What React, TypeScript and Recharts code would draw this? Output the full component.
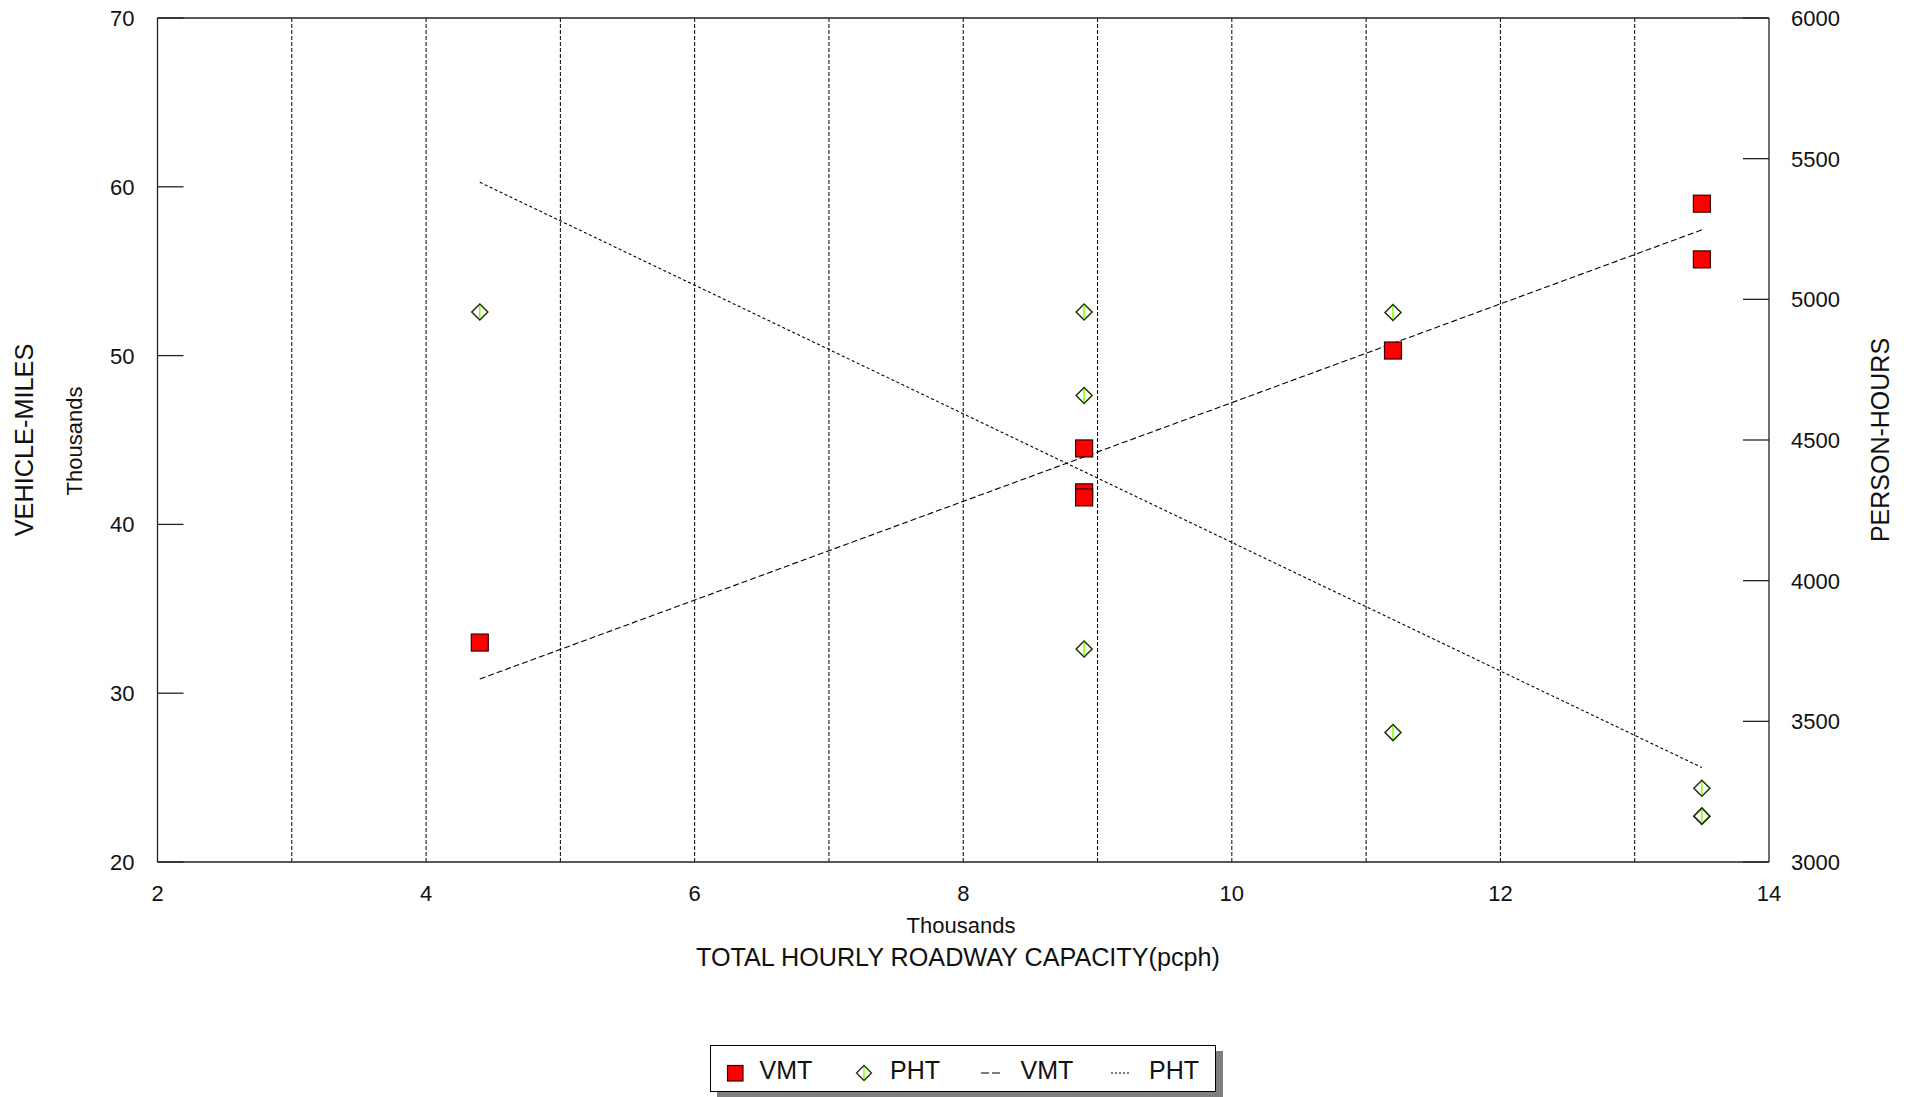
import React from 'react';
import { ComposedChart, Scatter, XAxis, YAxis, ReferenceLine } from 'recharts';

const FONT = '"Liberation Sans", Arial, Helvetica, sans-serif';

// x-axis (thousands of pcph)
const xTicks = [2, 4, 6, 8, 10, 12, 14];
const gridXs = [3, 4, 5, 6, 7, 8, 9, 10, 11, 12, 13];
// left axis: vehicle-miles (thousands)
const vmtTicks = [20, 30, 40, 50, 60, 70];
// right axis: person-hours
const phtTicks = [3000, 3500, 4000, 4500, 5000, 5500, 6000];

const vmtPoints = [
  { x: 4.4, y: 33.0 },
  { x: 8.9, y: 44.5 },
  { x: 8.9, y: 41.9 },
  { x: 8.9, y: 41.6 },
  { x: 11.2, y: 50.3 },
  { x: 13.5, y: 59.0 },
  { x: 13.5, y: 55.7 },
];

const phtPoints = [
  { x: 4.4, y: 4955 },
  { x: 8.9, y: 4955 },
  { x: 8.9, y: 4658 },
  { x: 8.9, y: 3757 },
  { x: 11.2, y: 4953 },
  { x: 11.2, y: 3460 },
  { x: 13.5, y: 3262 },
  { x: 13.5, y: 3163 },
  { x: 13.5, y: 3163 },
];

const vmtTrend = [
  { x: 4.4, y: 30.84 },
  { x: 13.5, y: 57.45 },
];

const phtTrend = [
  { x: 4.4, y: 5416 },
  { x: 13.5, y: 3336 },
];

const legendLabels = ['VMT', 'PHT', 'VMT', 'PHT'];

const AXIS_STROKE = '#222';

const SquareShape = (props: any) => {
  const { cx, cy } = props;
  if (cx == null || cy == null) return <g />;
  return (
    <rect x={cx - 8.5} y={cy - 8.5} width={17} height={17} fill="#ff0000" stroke="#3a0000" strokeWidth={1.2} />
  );
};

const DiamondShape = (props: any) => {
  const { cx, cy } = props;
  if (cx == null || cy == null) return <g />;
  const r = 8;
  return (
    <g>
      <polygon
        points={`${cx},${cy - r} ${cx + r},${cy} ${cx},${cy + r} ${cx - r},${cy}`}
        fill="#ffffff"
        stroke="#1e3300"
        strokeWidth={1.5}
      />
      <line x1={cx} y1={cy - r + 1.5} x2={cx} y2={cy + r - 1.5} stroke="#7fff00" strokeWidth={1.5} />
    </g>
  );
};

const NoShape = () => <g />;

const LeftTick = (props: any) => {
  const { x, y, payload } = props;
  return (
    <g>
      <line x1={x} y1={y} x2={x + 26} y2={y} stroke={AXIS_STROKE} strokeWidth={1.3} />
      <text x={x - 23} y={y + 8} textAnchor="end" fontSize={22} fontFamily={FONT} fill="#111">
        {payload.value}
      </text>
    </g>
  );
};

const RightTick = (props: any) => {
  const { x, y, payload } = props;
  return (
    <g>
      <line x1={x} y1={y} x2={x - 26} y2={y} stroke={AXIS_STROKE} strokeWidth={1.3} />
      <text x={x + 22} y={y + 8} textAnchor="start" fontSize={22} fontFamily={FONT} fill="#111">
        {payload.value}
      </text>
    </g>
  );
};

const BottomTick = (props: any) => {
  const { x, y, payload } = props;
  return (
    <text x={x} y={y + 39} textAnchor="middle" fontSize={22} fontFamily={FONT} fill="#111">
      {payload.value}
    </text>
  );
};

const LegendBox = () => (
  <div
    style={{
      position: 'absolute',
      left: 710,
      top: 1045,
      width: 506,
      height: 47,
      boxSizing: 'border-box',
      border: '1.5px solid #000',
      background: '#fff',
      boxShadow: '7px 6px 0 #7f7f7f',
    }}
  >
    <svg width={503} height={44} style={{ position: 'absolute', left: 0, top: 0, overflow: 'visible' }}>
      <rect x={16.5} y={19.5} width={15.5} height={15.5} fill="#ff0000" stroke="#3a0000" strokeWidth={1.2} />
      <text x={48.5} y={33} fontSize={25} fontFamily={FONT} fill="#111">{legendLabels[0]}</text>
      <polygon points="153,19.5 160.5,27 153,34.5 145.5,27" fill="#fff" stroke="#1e3300" strokeWidth={1.3} />
      <line x1={153} y1={21} x2={153} y2={33} stroke="#7fff00" strokeWidth={1.3} />
      <text x={179} y={33} fontSize={25} fontFamily={FONT} fill="#111">{legendLabels[1]}</text>
      <line x1={270} y1={27} x2={291.5} y2={27} stroke="#000" strokeWidth={1} strokeDasharray="8 3" />
      <text x={309.5} y={33} fontSize={25} fontFamily={FONT} fill="#111">{legendLabels[2]}</text>
      <line x1={400} y1={27} x2={420} y2={27} stroke="#000" strokeWidth={1} strokeDasharray="2 2" />
      <text x={438} y={33} fontSize={25} fontFamily={FONT} fill="#111">{legendLabels[3]}</text>
    </svg>
  </div>
);

const Titles = () => (
  <svg
    width={1917}
    height={1097}
    style={{ position: 'absolute', left: 0, top: 0, pointerEvents: 'none' }}
  >
    <text
      x={24}
      y={440}
      transform="rotate(-90 24 440)"
      textAnchor="middle"
      dominantBaseline="central"
      fontSize={25.3}
      fontFamily={FONT}
      fill="#111"
    >
      VEHICLE-MILES
    </text>
    <text
      x={74}
      y={441}
      transform="rotate(-90 74 441)"
      textAnchor="middle"
      dominantBaseline="central"
      fontSize={22}
      fontFamily={FONT}
      fill="#111"
    >
      Thousands
    </text>
    <text
      x={1880}
      y={440}
      transform="rotate(-90 1880 440)"
      textAnchor="middle"
      dominantBaseline="central"
      fontSize={25}
      fontFamily={FONT}
      fill="#111"
    >
      PERSON-HOURS
    </text>
    <text x={961} y={933} textAnchor="middle" fontSize={22} fontFamily={FONT} fill="#111">
      Thousands
    </text>
    <text x={958} y={966} textAnchor="middle" fontSize={25.2} fontFamily={FONT} fill="#111">
      TOTAL HOURLY ROADWAY CAPACITY(pcph)
    </text>
  </svg>
);

export default function App() {
  return (
    <div
      style={{
        position: 'fixed',
        left: 0,
        top: 0,
        width: 1917,
        height: 1097,
        background: '#fff',
        overflow: 'hidden',
      }}
    >
      <ComposedChart
        width={1917}
        height={1097}
        margin={{ top: 18, right: 8, bottom: 175, left: 7.5 }}
      >
        <XAxis
          dataKey="x"
          type="number"
          domain={[2, 14]}
          ticks={xTicks}
          interval={0}
          height={60}
          tickSize={0}
          tickMargin={0}
          tickLine={false}
          tick={<BottomTick />}
          axisLine={{ stroke: AXIS_STROKE, strokeWidth: 1.3 }}
          allowDataOverflow
        />
        <YAxis
          yAxisId="left"
          orientation="left"
          type="number"
          domain={[20, 70]}
          ticks={vmtTicks}
          interval={0}
          width={150}
          tickSize={0}
          tickMargin={0}
          tickLine={false}
          tick={<LeftTick />}
          axisLine={{ stroke: AXIS_STROKE, strokeWidth: 1.3 }}
          allowDataOverflow
        />
        <YAxis
          yAxisId="right"
          orientation="right"
          type="number"
          domain={[3000, 6000]}
          ticks={phtTicks}
          interval={0}
          width={140}
          tickSize={0}
          tickMargin={0}
          tickLine={false}
          tick={<RightTick />}
          axisLine={{ stroke: AXIS_STROKE, strokeWidth: 1.3 }}
          allowDataOverflow
        />
        {gridXs.map((v) => (
          <ReferenceLine
            key={`g${v}`}
            x={v}
            yAxisId="left"
            stroke="#000"
            strokeWidth={1}
            strokeDasharray="4 2"
          />
        ))}
        <ReferenceLine y={70} yAxisId="left" stroke={AXIS_STROKE} strokeWidth={1.3} />
        <Scatter
          name="VMT trend"
          data={vmtTrend}
          dataKey="y"
          yAxisId="left"
          line={{ stroke: '#000', strokeWidth: 1.1, strokeDasharray: '6 3' }}
          lineType="joint"
          shape={NoShape}
          isAnimationActive={false}
          legendType="none"
        />
        <Scatter
          name="PHT trend"
          data={phtTrend}
          dataKey="y"
          yAxisId="right"
          line={{ stroke: '#000', strokeWidth: 1.1, strokeDasharray: '3 2.5' }}
          lineType="joint"
          shape={NoShape}
          isAnimationActive={false}
          legendType="none"
        />
        <Scatter
          name="VMT"
          data={vmtPoints}
          dataKey="y"
          yAxisId="left"
          shape={SquareShape}
          isAnimationActive={false}
        />
        <Scatter
          name="PHT"
          data={phtPoints}
          dataKey="y"
          yAxisId="right"
          shape={DiamondShape}
          isAnimationActive={false}
        />
      </ComposedChart>
      <Titles />
      <LegendBox />
    </div>
  );
}
